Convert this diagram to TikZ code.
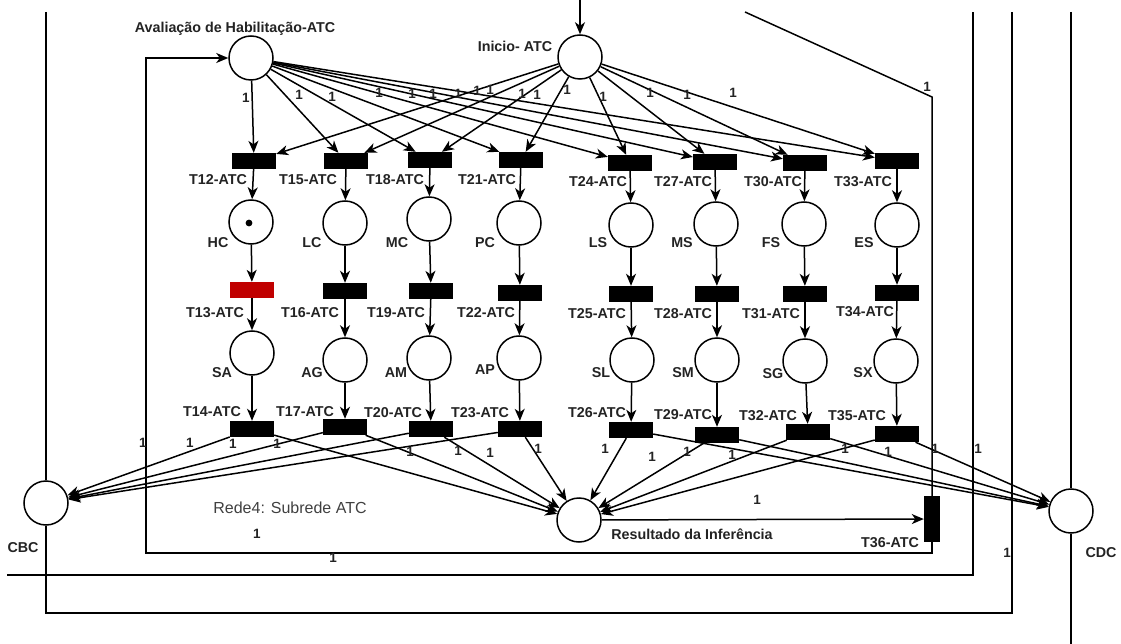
\documentclass[tikz,border=0pt]{standalone}
\usepackage{fontspec}
\setmainfont{Liberation Sans}
\usetikzlibrary{arrows.meta}
\definecolor{firered}{RGB}{192,0,0}
\definecolor{txt}{RGB}{35,35,35}
\begin{document}
\begin{tikzpicture}[x=1pt,y=-1pt,
  place/.style={circle,draw,fill=white,line width=1.5pt,minimum size=44pt,inner sep=0pt},
  trans/.style={rectangle,fill=black,minimum width=44pt,minimum height=16pt,inner sep=0pt},
  vtrans/.style={rectangle,fill=black,minimum width=16pt,minimum height=46pt,inner sep=0pt},
  lbl/.style={font=\fontsize{14.3}{15}\selectfont\bfseries,text=txt,inner sep=0pt},
  wt/.style={font=\fontsize{13.5}{14}\selectfont\bfseries,text=txt,inner sep=0pt},
  arc/.style={draw,line width=1.5pt,-{Stealth[length=12pt,width=10pt,inset=3.5pt]}},
  wire/.style={draw,line width=1.5pt},
]
\useasboundingbox (0,0) rectangle (1121,644);
% places
\node[place] (AV) at (251,58) {};
\node[place] (IN) at (580,57) {};
\node[place] (HC) at (251,222) {};
\node[place] (LC) at (345,223) {};
\node[place] (MC) at (429,219) {};
\node[place] (PC) at (519,223) {};
\node[place] (LS) at (631,225) {};
\node[place] (MS) at (716,224) {};
\node[place] (FS) at (804,224) {};
\node[place] (ES) at (897,225) {};
\node[place] (SA) at (252,353) {};
\node[place] (AG) at (345,360) {};
\node[place] (AM) at (429,358) {};
\node[place] (AP) at (519,358) {};
\node[place] (SL) at (632,360) {};
\node[place] (SM) at (717,360) {};
\node[place] (SG) at (805,361) {};
\node[place] (SX) at (896,361) {};
\node[place] (CBC) at (46,503) {};
\node[place] (RES) at (579,520) {};
\node[place] (CDC) at (1071,511) {};
\fill (249,223) circle (3.4pt);
% transitions
\node[trans] (T12) at (254,161) {};
\node[trans] (T15) at (346,161) {};
\node[trans] (T18) at (430,160) {};
\node[trans] (T21) at (521,160) {};
\node[trans] (T24) at (630,163) {};
\node[trans] (T27) at (715,162) {};
\node[trans] (T30) at (805,163) {};
\node[trans] (T33) at (897,161) {};
\node[trans,fill=firered] (T13) at (252,290) {};
\node[trans] (T16) at (345,291) {};
\node[trans] (T19) at (431,291) {};
\node[trans] (T22) at (520,293) {};
\node[trans] (T25) at (631,294) {};
\node[trans] (T28) at (717,294) {};
\node[trans] (T31) at (805,294) {};
\node[trans] (T34) at (897,293) {};
\node[trans] (T14) at (252,429) {};
\node[trans] (T17) at (345,427) {};
\node[trans] (T20) at (431,429) {};
\node[trans] (T23) at (520,429) {};
\node[trans] (T26) at (631,430) {};
\node[trans] (T29) at (717,435) {};
\node[trans] (T32) at (808,432) {};
\node[trans] (T35) at (897,434) {};
\node[vtrans] (T36) at (932,519) {};
% arcs from the two top places
\foreach \t in {T12,T15,T18,T21,T24,T27,T30,T33}{
  \draw[arc] (AV) -- (\t);
  \draw[arc] (IN) -- (\t);
}
% column chains
\foreach \a/\b/\c/\d/\e in {T12/HC/T13/SA/T14, T15/LC/T16/AG/T17, T18/MC/T19/AM/T20, T21/PC/T22/AP/T23,
  T24/LS/T25/SL/T26, T27/MS/T28/SM/T29, T30/FS/T31/SG/T32, T33/ES/T34/SX/T35}{
  \draw[arc] (\a) -- (\b);
  \draw[arc] (\b) -- (\c);
  \draw[arc] (\c) -- (\d);
  \draw[arc] (\d) -- (\e);
}
% bottom outputs
\foreach \t in {T14,T17,T20,T23}{
  \draw[arc] (\t) -- (CBC);
  \draw[arc] (\t) -- (RES);
}
\foreach \t in {T26,T29,T32,T35}{
  \draw[arc] (\t) -- (RES);
  \draw[arc] (\t) -- (CDC);
}
\draw[arc] (RES) -- (T36);
% outer wires
\coordinate (inTop) at (580,0);
\draw[arc] (inTop) -- (IN);
\coordinate (avA) at (932,553);
\coordinate (avB) at (146,553);
\coordinate (avC) at (146,58);
\draw[arc] (T36.south) -- (avA) -- (avB) -- (avC) -- (AV);
\coordinate (dgA) at (745,12);
\coordinate (dgB) at (932,97);
\draw[wire] (dgA) -- (dgB) -- (T36.north);
\coordinate (cbA) at (46,12);
\coordinate (cbB) at (46,613);
\coordinate (cbC) at (1012,613);
\coordinate (cbD) at (1012,12);
\draw[wire] (cbA) -- (CBC.north);
\draw[wire] (CBC.south) -- (cbB) -- (cbC) -- (cbD);
\coordinate (hzA) at (7,575);
\coordinate (hzB) at (973,575);
\coordinate (hzC) at (973,12);
\draw[wire] (hzA) -- (hzB) -- (hzC);
\coordinate (cdA) at (1071,12);
\coordinate (cdB) at (1071,644);
\draw[wire] (cdA) -- (CDC.north);
\draw[wire] (CDC.south) -- (cdB);
% labels
\node[lbl] (lAV) at (235,29) {Avaliação de Habilitação-ATC};
\node[lbl] (lIN) at (515,46) {Inicio- ATC};
\node[lbl] (lCBC) at (23,548) {CBC};
\node[lbl] (lCDC) at (1101,553) {CDC};
\node[lbl] (lRES) at (692,534) {Resultado da Inferência};
\node[lbl] (lT36) at (890,543) {T36-ATC};
\node[font=\fontsize{16}{18}\selectfont,text=black!75,inner sep=0pt] (lRede) at (290,508) {Rede4: Subrede ATC};
\foreach \n/\x/\y in {T12/218/180,T15/308/180,T18/395/180,T21/487/180,T24/598/182,T27/683/182,T30/773/182,T33/863/182,
  T13/215/313,T16/310/313,T19/396/313,T22/486/313,T25/597/314,T28/683/314,T31/771/314,T34/865/312,
  T14/212/412,T17/305/412,T20/393/413,T23/480/413,T26/597/413,T29/683/415,T32/768/416,T35/857/416}{
  \node[lbl] (l\n) at (\x,\y) {\n-ATC};
}
\foreach \n/\x/\y in {HC/218/243,LC/312/243,MC/397/243,PC/485/243,LS/598/243,MS/682/243,FS/771/243,ES/864/243,
  SA/222/373,AG/312/373,AM/396/373,AP/485/370,SL/601/373,SM/683/373,SG/773/374,SX/863/373}{
  \node[lbl] (l\n) at (\x,\y) {\n};
}
% weights
\foreach \x/\y [count=\i] in {246/98,299/95,332/97,379/93,412/94,433/94,458/94,477/91,490/90,522/94,537/95,567/90,603/97,650/93,687/95,733/93,
  143/443,190/443,233/444,277/444,410/452,458/451,490/453,538/449,605/449,652/457,687/452,732/455,845/449,888/452,935/449,978/449,
  757/500,257/534,333/558,1007/553,927/87}{
  \node[wt] (w\i) at (\x,\y) {1};
}
\end{tikzpicture}
\end{document}
